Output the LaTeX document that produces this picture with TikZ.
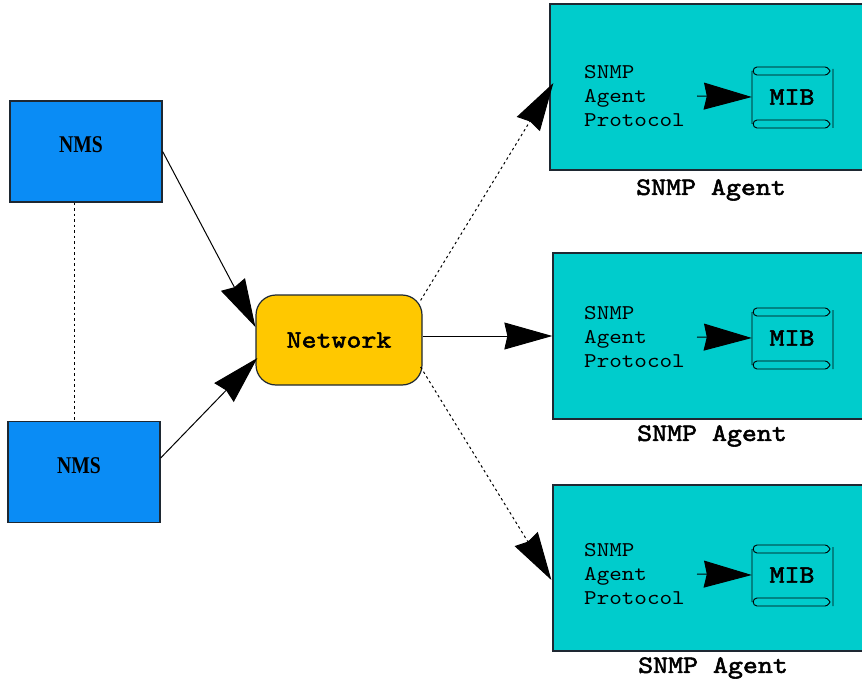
\documentclass[tikz,border=0pt]{standalone}
\usepackage{fontspec}
\usetikzlibrary{arrows.meta,calc}
\newfontfamily\courfont{lmmono10-regular.otf}[FakeStretch=1.14, AutoFakeBold=2.2]
\newfontfamily\romanfont{Liberation Serif}
\definecolor{nmsblue}{RGB}{10,140,245}
\definecolor{agentteal}{RGB}{0,204,204}
\definecolor{netyellow}{RGB}{255,200,0}
\definecolor{edge}{RGB}{30,40,50}
\tikzset{
  nmsbox/.style={draw=edge, line width=1.3pt, fill=nmsblue, minimum width=152pt, minimum height=101pt, inner sep=0pt},
  nmstext/.style={font=\romanfont\bfseries\fontsize{24}{24}\selectfont, inner sep=0pt, xscale=0.82},
  netbox/.style={draw=edge, line width=1.2pt, fill=netyellow, rounded corners=20pt, minimum width=166pt, minimum height=90pt,
    inner sep=0pt, font=\courfont\bfseries\fontsize{25}{25}\selectfont},
  agentbox/.style={draw=edge, line width=1.3pt, fill=agentteal, minimum width=320pt, minimum height=166pt, inner sep=0pt},
  agentlabel/.style={font=\courfont\bfseries\fontsize{25}{25}\selectfont, inner sep=0pt},
  protolabel/.style={font=\courfont\fontsize{21}{24}\selectfont, align=left, inner sep=0pt, anchor=west},
  miblabel/.style={font=\courfont\bfseries\fontsize{25}{25}\selectfont, minimum width=80pt, minimum height=60pt, inner sep=0pt},
  bigtip/.style={-{Stealth[length=48pt,width=27pt,inset=3pt]}},
  conn/.style={black, line width=1pt},
  dots/.style={dash pattern=on 2.5pt off 3pt},
  mibscroll/.pic={
    \draw[black, line width=0.9pt]
      % top roll
      (-35,-22) -- (33,-22) .. controls (36,-22) and (38,-26) .. (38,-26)
      .. controls (38,-26) and (36,-30) .. (33,-30) -- (-35,-30)
      .. controls (-40,-30) and (-40,-22) .. (-35,-22)
      % bottom roll
      (-35,23) -- (33,23) .. controls (36,23) and (38,27) .. (38,27)
      .. controls (38,27) and (36,31) .. (33,31) -- (-35,31)
      .. controls (-40,31) and (-40,23) .. (-35,23)
      % sides
      (-40,-26) -- (-40,27)
      (41,-28) -- (41,31);
  }
}
\begin{document}
\begin{tikzpicture}[x=1pt, y=-1pt]
  \useasboundingbox (0,0) rectangle (862,682);
  \fill[white] (0,0) rectangle (862,682);

  % managers and the network
  \node[nmsbox] (nms1) at (86,151.5) {};
  \node[nmstext] (t1) at (81,145) {NMS};
  \node[nmsbox] (nms2) at (84,472) {};
  \node[nmstext] (t2) at (79,466) {NMS};
  \node[netbox] (net) at (339,340) {Network};

  % agents (boxes run off the right edge)
  \node[agentbox] (a1) at (710,87) {};
  \node[agentbox] (a2) at (713,336) {};
  \node[agentbox] (a3) at (713,568) {};

  \node[agentlabel] (l1) at (711,190) {SNMP Agent};
  \node[agentlabel] (l2) at (712,436) {SNMP Agent};
  \node[agentlabel] (l3) at (713,668) {SNMP Agent};

  % contents of each agent
  \foreach \n/\y in {1/96, 2/337, 3/574} {
    \node[protolabel] (p\n) at (584,\y) {SNMP\\Agent\\Protocol};
    \node[miblabel] (m\n) at (792,\y+1) {MIB};
    \pic at (m\n) {mibscroll};
    \coordinate (s\n) at (697,\y);
    \draw[conn, bigtip] (s\n) -- (m\n.west);
  }

  % links
  \draw[conn, dots] ([xshift=-12pt]nms1.south) -- ([xshift=-10pt]nms2.north);
  \draw[conn, bigtip] (nms1.east) -- ([yshift=13pt]net.west);
  \draw[conn, bigtip] ([yshift=14pt]nms2.east) -- ([xshift=2pt,yshift=-18pt]net.west);
  \draw[conn, dots, bigtip] ([xshift=-2pt,yshift=-6pt]net.north east) -- ([xshift=4pt,yshift=4pt]a1.west);
  \draw[conn, bigtip] ([yshift=4pt]net.east) -- (a2.west);
  \draw[conn, dots, bigtip] ([xshift=-2pt,yshift=-27pt]net.east) -- ([xshift=-1pt,yshift=-12pt]a3.west);
\end{tikzpicture}
\end{document}
